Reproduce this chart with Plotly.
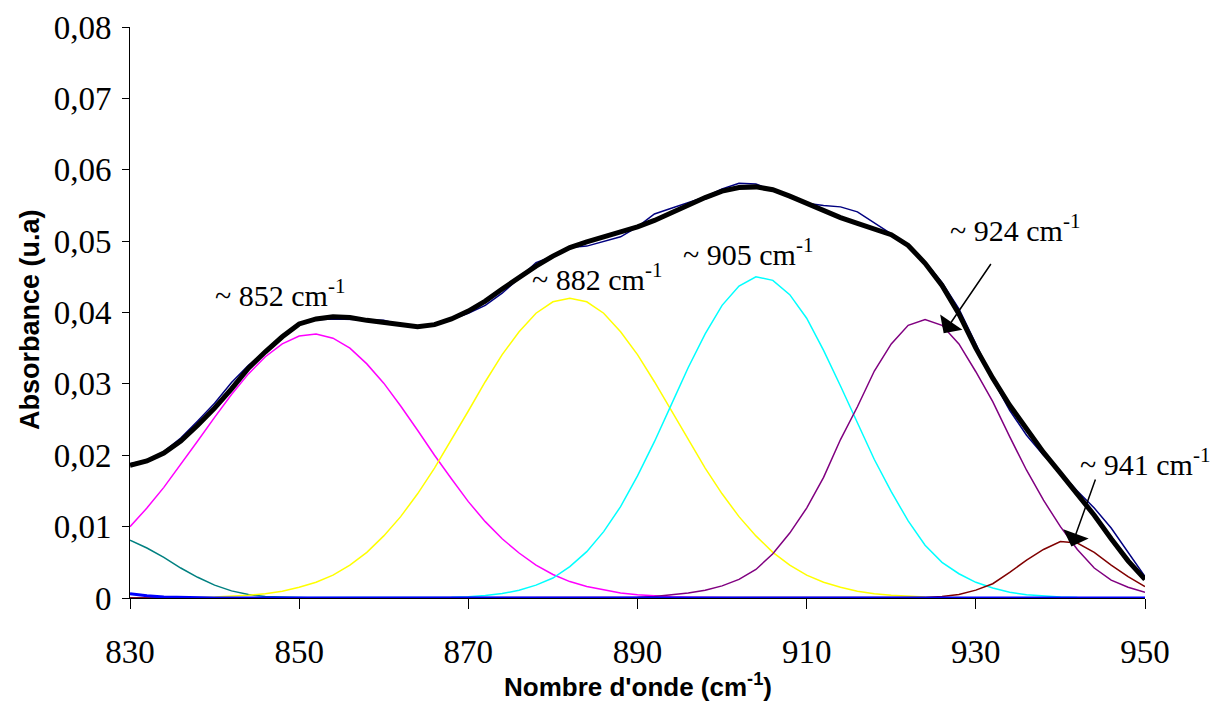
import plotly.graph_objects as go

# Wavenumbers (cm-1)
wavenumber = [830, 832, 834, 836, 838, 840, 842, 844, 846, 848,
              850, 852, 854, 856, 858, 860, 862, 864, 866, 868,
              870, 872, 874, 876, 878, 880, 882, 884, 886, 888,
              890, 892, 894, 896, 898, 900, 902, 904, 906, 908,
              910, 912, 914, 916, 918, 920, 922, 924, 926, 928,
              930, 932, 934, 936, 938, 940, 942, 944, 946, 948, 950]

# Experimental spectrum (thin navy)
experimental = [0.0188, 0.0193, 0.0205, 0.0224, 0.0248, 0.0273, 0.0302, 0.0326, 0.0346, 0.0367,
                0.0383, 0.0390, 0.0391, 0.0391, 0.0390, 0.0389, 0.0383, 0.0380, 0.0383, 0.0390,
                0.0399, 0.0410, 0.0427, 0.0448, 0.0470, 0.0479, 0.0491, 0.0493, 0.0500, 0.0506,
                0.0520, 0.0538, 0.0546, 0.0554, 0.0562, 0.0573, 0.0581, 0.0580, 0.0571, 0.0563,
                0.0553, 0.0550, 0.0548, 0.0541, 0.0526, 0.0510, 0.0494, 0.0471, 0.0442, 0.0405,
                0.0356, 0.0306, 0.0263, 0.0228, 0.0200, 0.0176, 0.0150, 0.0126, 0.0098, 0.0064, 0.0030]

# Fitted envelope (thick black)
fit_sum = [0.0186, 0.0192, 0.0203, 0.0220, 0.0242, 0.0266, 0.0293, 0.0322, 0.0345, 0.0366,
           0.0384, 0.0391, 0.0394, 0.0393, 0.0389, 0.0386, 0.0382, 0.0380, 0.0383, 0.0391,
           0.0402, 0.0416, 0.0433, 0.0450, 0.0465, 0.0479, 0.0491, 0.0499, 0.0506, 0.0513,
           0.0520, 0.0529, 0.0540, 0.0551, 0.0561, 0.0570, 0.0575, 0.0576, 0.0572, 0.0563,
           0.0553, 0.0543, 0.0533, 0.0525, 0.0517, 0.0509, 0.0494, 0.0469, 0.0438, 0.0398,
           0.0350, 0.0308, 0.0270, 0.0236, 0.0204, 0.0175, 0.0145, 0.0116, 0.0083, 0.0052, 0.0026]

# Band ~852 (magenta)
band_852 = [0.0100, 0.0126, 0.0155, 0.0187, 0.0220, 0.0253, 0.0285, 0.0314, 0.0338, 0.0356,
            0.0367, 0.0370, 0.0364, 0.0350, 0.0328, 0.0301, 0.0269, 0.0235, 0.0200, 0.0167,
            0.0135, 0.0107, 0.0083, 0.0063, 0.0046, 0.0033, 0.0023, 0.0016, 0.0011, 0.0007,
            0.00045, 0.00028, 0.00017, 0.0001, 0.00005, 0.0, 0.0, 0.0, 0.0, 0.0,
            0.0, 0.0, 0.0, 0.0, 0.0, 0.0, 0.0, 0.0, 0.0, 0.0,
            0.0, 0.0, 0.0, 0.0, 0.0, 0.0, 0.0, 0.0, 0.0, 0.0, 0.0]

# Band ~882 (yellow)
band_882 = [0.00001, 0.00001, 0.00002, 0.00004, 0.00007, 0.00013, 0.00023, 0.00037, 0.00061, 0.00096,
            0.0015, 0.0022, 0.0032, 0.0046, 0.0064, 0.0087, 0.0114, 0.0146, 0.0182, 0.0221,
            0.0262, 0.0303, 0.0341, 0.0373, 0.0399, 0.0415, 0.0420, 0.0415, 0.0399, 0.0373,
            0.0341, 0.0303, 0.0262, 0.0221, 0.0182, 0.0146, 0.0114, 0.0087, 0.0064, 0.0046,
            0.0032, 0.0022, 0.0015, 0.00096, 0.00061, 0.00037, 0.00023, 0.00013, 0.00007, 0.00004,
            0.00002, 0.00001, 0.00001, 0.0, 0.0, 0.0, 0.0, 0.0, 0.0, 0.0, 0.0]

# Band ~905 (cyan)
band_905 = [0.0, 0.0, 0.0, 0.0, 0.0, 0.0, 0.0, 0.0, 0.0, 0.0,
            0.0, 0.0, 0.0, 0.0, 0.0, 0.0, 0.0, 0.0, 0.00005, 0.0001,
            0.00019, 0.00035, 0.00062, 0.0011, 0.0018, 0.0028, 0.0044, 0.0065, 0.0093, 0.0128,
            0.0171, 0.0219, 0.0271, 0.0323, 0.0370, 0.0410, 0.0437, 0.0450, 0.0445, 0.0425,
            0.0392, 0.0347, 0.0297, 0.0245, 0.0194, 0.0149, 0.0108, 0.0074, 0.0050, 0.0034,
            0.0022, 0.0014, 0.0008, 0.00047, 0.00026, 0.00014, 0.00007, 0.00003, 0.00001, 0.0, 0.0]

# Band ~924 (purple)
band_924 = [0.0, 0.0, 0.0, 0.0, 0.0, 0.0, 0.0, 0.0, 0.0, 0.0,
            0.0, 0.0, 0.0, 0.0, 0.0, 0.0, 0.0, 0.0, 0.0, 0.0,
            0.0, 0.0, 0.0, 0.0, 0.0, 0.0, 0.0, 0.0, 0.0, 0.0,
            0.0001, 0.0002, 0.0004, 0.0007, 0.0011, 0.0017, 0.0026, 0.0040, 0.0062, 0.0091,
            0.0126, 0.0169, 0.0222, 0.0268, 0.0318, 0.0356, 0.0382, 0.0390, 0.0382, 0.0356,
            0.0317, 0.0275, 0.0226, 0.0179, 0.0137, 0.0100, 0.0068, 0.0042, 0.0025, 0.0015, 0.0008]

# Band ~941 (dark red)
band_941 = [0.0, 0.0, 0.0, 0.0, 0.0, 0.0, 0.0, 0.0, 0.0, 0.0,
            0.0, 0.0, 0.0, 0.0, 0.0, 0.0, 0.0, 0.0, 0.0, 0.0,
            0.0, 0.0, 0.0, 0.0, 0.0, 0.0, 0.0, 0.0, 0.0, 0.0,
            0.0, 0.0, 0.0, 0.0, 0.0, 0.0, 0.0, 0.0, 0.0, 0.0,
            0.0, 0.0, 0.0, 0.0, 0.0, 0.0, 0.00002, 0.00008, 0.0002, 0.0005,
            0.0011, 0.0020, 0.0036, 0.0053, 0.0068, 0.0079, 0.0077, 0.0064, 0.0046, 0.0030, 0.0016]

# Low-wavenumber band tail (teal)
band_low = [0.0081, 0.0070, 0.0057, 0.0042, 0.0029, 0.0018, 0.0010, 0.0005, 0.0002, 0.0001,
            0.00004, 0.0, 0.0, 0.0, 0.0, 0.0, 0.0, 0.0, 0.0, 0.0,
            0.0, 0.0, 0.0, 0.0, 0.0, 0.0, 0.0, 0.0, 0.0, 0.0,
            0.0, 0.0, 0.0, 0.0, 0.0, 0.0, 0.0, 0.0, 0.0, 0.0,
            0.0, 0.0, 0.0, 0.0, 0.0, 0.0, 0.0, 0.0, 0.0, 0.0,
            0.0, 0.0, 0.0, 0.0, 0.0, 0.0, 0.0, 0.0, 0.0, 0.0, 0.0]

# Baseline (blue)
baseline = [0.0006, 0.0003, 0.00015, 0.00007, 0.00003, 0.0, 0.0, 0.0, 0.0, 0.0,
            0.0, 0.0, 0.0, 0.0, 0.0, 0.0, 0.0, 0.0, 0.0, 0.0,
            0.0, 0.0, 0.0, 0.0, 0.0, 0.0, 0.0, 0.0, 0.0, 0.0,
            0.0, 0.0, 0.0, 0.0, 0.0, 0.0, 0.0, 0.0, 0.0, 0.0,
            0.0, 0.0, 0.0, 0.0, 0.0, 0.0, 0.0, 0.0, 0.0, 0.0,
            0.0, 0.0, 0.0, 0.0, 0.0, 0.0, 0.0, 0.0, 0.0, 0.0, 0.0]

x_ticks = [830, 850, 870, 890, 910, 930, 950]
y_ticks = [0, 0.01, 0.02, 0.03, 0.04, 0.05, 0.06, 0.07, 0.08]
y_tick_text = ["0", "0,01", "0,02", "0,03", "0,04", "0,05", "0,06", "0,07", "0,08"]

band_labels = ["~ 852 cm<sup>-1</sup>", "~ 882 cm<sup>-1</sup>", "~ 905 cm<sup>-1</sup>",
               "~ 924 cm<sup>-1</sup>", "~ 941 cm<sup>-1</sup>"]

fig = go.Figure()

series = [
    (band_low, "#008080", 1.5),
    (band_852, "#FF00FF", 1.5),
    (band_882, "#FFFF00", 1.5),
    (band_905, "#00FFFF", 1.5),
    (band_924, "#800080", 1.5),
    (band_941, "#800000", 1.5),
    (baseline, "#0000FF", 3),
    (experimental, "#000080", 1.5),
    (fit_sum, "#000000", 5),
]
for ys, col, w in series:
    fig.add_trace(go.Scatter(x=wavenumber, y=ys, mode="lines",
                             line=dict(color=col, width=w), hoverinfo="skip"))

serif = "Liberation Serif, Times New Roman, serif"
sans = "Liberation Sans, Arial, sans-serif"

fig.update_layout(
    width=1216, height=709,
    margin=dict(l=130, r=71, t=27, b=111),
    plot_bgcolor="white", paper_bgcolor="white",
    showlegend=False,
    xaxis=dict(range=[830, 950], tickvals=x_ticks, ticks="outside", ticklen=10,
               tickcolor="black", showline=True, linecolor="black", linewidth=1,
               showgrid=False, zeroline=False, ticklabelstandoff=14, automargin=False,
               tickfont=dict(family=serif, size=33, color="black")),
    yaxis=dict(range=[0, 0.08], tickvals=y_ticks, ticktext=y_tick_text, ticks="outside",
               ticklen=7, tickcolor="black", showline=True, linecolor="black", linewidth=1,
               showgrid=False, zeroline=False, ticklabelstandoff=4, automargin=False,
               tickfont=dict(family=serif, size=33, color="black")),
)

# Axis titles
fig.add_annotation(text="Absorbance (u.a)", xref="paper", yref="paper",
                   x=-0.0985, y=0.487, textangle=-90, showarrow=False,
                   xanchor="center", yanchor="middle",
                   font=dict(family=sans, size=27, color="black", weight="bold"))
fig.add_annotation(text="Nombre d'onde (cm<sup>-1</sup>)", xref="paper", yref="paper",
                   x=0.5, y=-0.153, showarrow=False, xanchor="center", yanchor="middle",
                   font=dict(family=sans, size=26, color="black", weight="bold"))

# Band labels
label_pos = [(839.8, 0.0428), (877.3, 0.0450), (895.2, 0.0485), (926.7, 0.0519), (942.1, 0.0190)]
for (lx, ly), txt in zip(label_pos, band_labels):
    fig.add_annotation(text=txt, x=lx, y=ly, xref="x", yref="y", showarrow=False,
                       xanchor="left", yanchor="middle",
                       font=dict(family=serif, size=30, color="black"))

# Arrows
arrows = [((926.2, 0.0371), (931.9, 0.0470)), ((941.3, 0.0072), (944.2, 0.0168))]
for (tx, ty), (sx, sy) in arrows:
    fig.add_annotation(text="", x=tx, y=ty, ax=sx, ay=sy, xref="x", yref="y",
                       axref="x", ayref="y", showarrow=True, arrowhead=1,
                       arrowsize=3, arrowwidth=1.5, arrowcolor="black")

# Remove the default page margin so the figure fills the window exactly.
fig.write_html("out.html", config={"displayModeBar": False},
               post_script="document.body.style.margin='0';document.body.style.overflow='hidden';")
